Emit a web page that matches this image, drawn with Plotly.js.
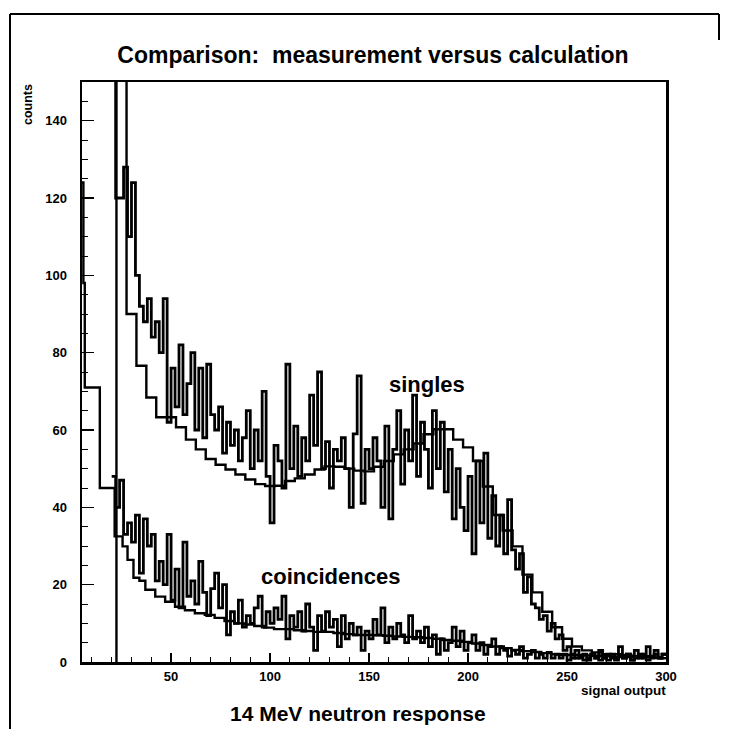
<!DOCTYPE html>
<html><head><meta charset="utf-8">
<script src="https://cdn.plot.ly/plotly-3.0.1.min.js"></script>
<style>html,body{margin:0;padding:0;background:#fff}</style>
</head><body><div id="chart" style="width:729px;height:729px"></div>
<script>
// Calculated singles: bin edges and contents
const singlesCalcEdges = [22.4, 27.5, 32.5, 37.5, 42.5, 47.5, 52.5, 57.5, 62.5, 67.5, 72.5, 77.5, 82.5, 87.5, 92.5, 97.5, 102.5, 107.5, 112.5, 117.5, 122.5, 127.5, 132.5, 137.5, 142.5, 147.5, 152.5, 157.5, 162.5, 167.5, 172.5, 177.5, 182.5, 187.5, 192.5, 197.5, 202.5, 207.5, 212.5, 217.5, 222.5, 227.5, 232.5, 237.5, 242.5, 247.5, 252.5, 257.5, 262.5, 267.5, 272.5, 277.5, 282.5, 287.5, 292.5, 297.5, 300];
const singlesCalcValues = [160, 90, 76.6, 68.4, 63.3, 63.3, 60.7, 57.5, 55, 52.5, 51, 49.8, 48.5, 47.2, 46, 45.5, 45.6, 46.8, 47.5, 48.5, 49.8, 50.6, 50.5, 50, 49.5, 49.3, 50.5, 52, 53.7, 55, 56.5, 58.9, 60.2, 60.2, 57.5, 55.5, 52, 45.4, 38, 34, 29.9, 22.6, 18, 13, 9, 6, 4, 3, 2.5, 2, 2, 1.8, 1.5, 1.5, 1.2, 1];

// Calculated coincidences: bin edges and contents
const coincCalcEdges = [5, 5.7, 6.4, 14, 21.5, 25.5, 28, 31, 34, 37, 42, 47, 52, 57, 62, 67, 72, 77, 82, 87, 92, 97, 102, 107, 112, 117, 122, 127, 132, 137, 142, 147, 152, 157, 162, 167, 172, 177, 182, 187, 192, 197, 202, 207, 212, 217, 222, 227, 232, 237, 242, 247, 252, 257, 262, 267, 272, 277, 282, 287, 292, 297, 300];
const coincCalcValues = [124, 98, 71, 45, 32.5, 29.9, 26.4, 21.8, 21, 18.7, 16.9, 15.6, 14.3, 13.4, 12.6, 12.2, 11.4, 10.6, 10, 9.7, 9.3, 8.9, 8.5, 8.5, 8.2, 8, 7.8, 7.8, 7.5, 7.2, 7, 7, 6.9, 6.8, 6.6, 6.5, 6.4, 6.2, 6, 5.7, 5.5, 5.2, 4.8, 4.4, 4, 3.6, 3.1, 2.8, 2.6, 2.3, 2, 1.8, 1.8, 1.7, 1.6, 1.5, 1.4, 1.3, 1.2, 1.2, 1.1, 1];

// Measured spectra: 2-unit bins starting at signal 20
const measuredBinStart = 20;
const measuredBinWidth = 2;
const singlesMeasured = [160, 120, 120, 128, 110, 124, 100, 92, 88, 94,
  84, 88, 80, 94, 62, 76, 66, 82, 64, 72,
  80, 60, 76, 58, 77, 64, 60, 66, 54, 62,
  56, 60, 52, 58, 65, 50, 60, 52, 70, 48,
  36, 56, 52, 45, 77, 50, 61, 48, 58, 52,
  69, 56, 75, 50, 57, 45, 55, 52, 58, 50,
  40, 59, 74, 41, 55, 50, 58, 52, 40, 61,
  37, 55, 65, 46, 60, 52, 69, 48, 62, 55,
  45, 65, 50, 62, 44, 55, 37, 50, 40, 34,
  48, 28, 52, 36, 54, 32, 43, 30, 38, 28,
  42, 29, 24, 28, 18, 22, 15, 14, 11, 12,
  8, 10, 6, 7, 3, 4, 1, 3, 1, 2,
  0.5, 2, 1, 3, 1, 0.5, 2, 1, 4, 1,
  2, 0.5, 3, 1, 2, 4, 1, 3, 1, 2];
const coincMeasured = [48, 40, 47, 33, 36, 31, 38, 23, 37, 30,
  33, 21, 26, 20, 33, 16, 24, 14, 31, 17,
  21, 15, 26, 18, 12, 19, 23, 14, 20, 7,
  13, 10, 16, 9, 12, 10, 14, 17, 9, 13,
  10, 14, 11, 17, 6, 12, 9, 13, 8, 15,
  9, 3, 12, 8, 13, 9, 11, 4, 12, 6,
  10, 7, 9, 3, 8, 6, 11, 7, 14, 5,
  9, 6, 10, 7, 5, 12, 6, 8, 5, 9,
  4, 7, 2, 6, 3, 5, 9, 4, 8, 3,
  5, 7, 3, 5, 2, 4, 6, 2, 4, 3,
  1.5, 3, 2, 4, 1, 2, 3, 1, 2, 1,
  2.5, 1, 2, 1, 2, 0.5, 2, 1, 1.5, 0.5,
  1, 2, 1, 0.5, 1, 2, 1, 0.5, 1.5, 1,
  2, 0.5, 1, 2, 1, 0.5, 1.5, 2, 1, 2];

const xTickVals = [50, 100, 150, 200, 250, 300];
const yTickVals = [0, 20, 40, 60, 80, 100, 120, 140];

function stepFromEdges(edges, values) {
  return { x: edges.slice(), y: values.concat([values[values.length - 1]]) };
}
function measuredEdges(values) {
  const e = values.map((_, i) => measuredBinStart + i * measuredBinWidth);
  e.push(measuredBinStart + values.length * measuredBinWidth);
  return e;
}

const sc = stepFromEdges(singlesCalcEdges, singlesCalcValues);
sc.x.unshift(singlesCalcEdges[0]); sc.y.unshift(0);
const cc = stepFromEdges(coincCalcEdges, coincCalcValues);
const sm = stepFromEdges(measuredEdges(singlesMeasured), singlesMeasured);
const cm = stepFromEdges(measuredEdges(coincMeasured), coincMeasured);

const traces = [
  { d: sm, w: 2.8 }, { d: cm, w: 2.8 }, { d: sc, w: 2.4 }, { d: cc, w: 2.4 }
].map(t => ({
  x: t.d.x, y: t.d.y, type: 'scatter', mode: 'lines',
  line: { color: '#000', width: t.w, shape: 'hv' }, hoverinfo: 'skip'
}));

const boldFont = (size) => ({ family: 'Liberation Sans, Arial, Helvetica, sans-serif', size: size, color: '#000', weight: 700 });

const layout = {
  width: 729, height: 729,
  margin: { l: 82, r: 63, t: 82, b: 67, pad: 0 },
  paper_bgcolor: '#fff', plot_bgcolor: '#fff',
  showlegend: false,
  title: { text: 'Comparison:  measurement versus calculation', font: boldFont(23),
    xref: 'container', yref: 'container', x: 373 / 729, y: 1 - 55 / 729, xanchor: 'center', yanchor: 'middle' },
  xaxis: {
    range: [5, 300], tickmode: 'array', tickvals: xTickVals, ticktext: xTickVals.map(String),
    ticks: 'inside', ticklen: 9, tickwidth: 1.5, tickcolor: '#000',
    minor: { dtick: 10, tick0: 0, ticks: 'inside', ticklen: 5, tickwidth: 1, tickcolor: '#000' },
    showline: true, mirror: true, linewidth: 2.5, linecolor: '#000',
    showgrid: false, zeroline: false, tickfont: boldFont(13), ticklabelstandoff: 1
  },
  yaxis: {
    range: [0, 150], tickmode: 'array', tickvals: yTickVals, ticktext: yTickVals.map(String),
    ticks: 'inside', ticklen: 12, tickwidth: 1.5, tickcolor: '#000',
    minor: { dtick: 5, tick0: 0, ticks: 'inside', ticklen: 6, tickwidth: 1, tickcolor: '#000' },
    showline: true, mirror: true, linewidth: 2.5, linecolor: '#000',
    showgrid: false, zeroline: false, tickfont: boldFont(13), ticklabelstandoff: 10
  },
  annotations: [
    { text: 'singles', x: 179.5, y: 71.8, xref: 'x', yref: 'y', showarrow: false, font: boldFont(22),
      xanchor: 'center', yanchor: 'middle' },
    { text: 'coincidences', x: 130.4, y: 22, xref: 'x', yref: 'y', showarrow: false, font: boldFont(22),
      xanchor: 'center', yanchor: 'middle' },
    { text: '14 MeV neutron response', x: (358 - 82) / 584, y: (662 - 713) / 580, xref: 'paper', yref: 'paper',
      showarrow: false, font: boldFont(21), xanchor: 'center', yanchor: 'middle' },
    { text: 'signal output', x: (668 - 82) / 584, y: (662 - 690) / 580, xref: 'paper', yref: 'paper',
      showarrow: false, font: boldFont(13.5), xanchor: 'right', yanchor: 'middle' },
    { text: 'counts', x: (28 - 82) / 584, y: (662 - 105) / 580, xref: 'paper', yref: 'paper',
      showarrow: false, font: boldFont(12.5), textangle: -90, xanchor: 'center', yanchor: 'middle' }
  ],
  shapes: [
    { type: 'line', xref: 'paper', yref: 'paper', x0: (10 - 82) / 584, x1: (10 - 82) / 584, y0: (662 - 14) / 580, y1: (662 - 729) / 580, line: { color: '#000', width: 2 } },
    { type: 'line', xref: 'paper', yref: 'paper', x0: (10 - 82) / 584, x1: (719 - 82) / 584, y0: (662 - 14) / 580, y1: (662 - 14) / 580, line: { color: '#000', width: 2 } },
    { type: 'line', xref: 'paper', yref: 'paper', x0: (719 - 82) / 584, x1: (719 - 82) / 584, y0: (662 - 14) / 580, y1: (662 - 40) / 580, line: { color: '#000', width: 2 } }
  ]
};

Plotly.newPlot('chart', traces, layout, { staticPlot: true, displayModeBar: false });
</script>
</body></html>
